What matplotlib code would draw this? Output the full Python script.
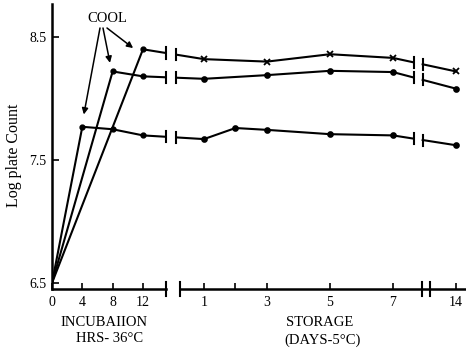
import matplotlib
matplotlib.use("Agg")
import matplotlib.pyplot as plt
import numpy as np

# ---- data ----
inc_ticks = [0, 4, 8, 12]
storage_ticks = [1, 2, 3, 5, 7, 14]
storage_tick_labels = ["1", "", "3", "5", "7", "14"]

low_hours = [0, 4, 8, 12]
low_inc = [6.5, 7.77, 7.75, 7.70]
low_days = [1, 2, 3, 5, 7]
low_store = [7.67, 7.76, 7.745, 7.71, 7.70]
low_day14 = 7.62

mid_hours = [0, 8, 12]
mid_inc = [6.5, 8.22, 8.18]
mid_days = [1, 3, 5, 7]
mid_store = [8.16, 8.19, 8.225, 8.215]
mid_day14 = 8.08

top_hours = [0, 12]
top_inc = [6.5, 8.40]
top_days = [1, 3, 5, 7]
top_store = [8.32, 8.30, 8.36, 8.33]
top_day14 = 8.22

# COOL arrow tips (hours, log count)
arrow_tips_x = [4.2, 7.65, 10.7]
arrow_tips_y = [7.87, 8.29, 8.41]
arrow_start_px = [100, 103, 107]

# ---- axis mapping (hours and storage days on one axis) ----
def day_pos(d):
    d = np.asarray(d, dtype=float)
    return np.where(d > 7.5, 53.3, 20.05 + (d - 1) * 4.155)

BRK1 = (15.0, 16.4)   # series break between incubation and storage
BRK2 = (47.7, 48.9)   # series break between day 7 and 14
AX_BRK1 = (15.0, 16.85)
AX_BRK2 = (48.8, 49.9)

plt.rcParams['font.family'] = ['Liberation Serif', 'DejaVu Serif']
fig = plt.figure(figsize=(4.66, 3.51), dpi=100)
W, H = 466, 351
ax = fig.add_axes([52 / W, (H - 289) / H, (466 - 52) / W, (289 - 4) / H])
ax.set_xlim(0, (466 - 52) / 7.58)
ax.set_ylim(6.5 - 6 / 123, 6.5 + 285 / 123 - 6 / 123)

lw = 1.5
k = 'black'

def interp(x0, y0, x1, y1, x):
    return y0 + (y1 - y0) * (x - x0) / (x1 - x0)

def draw_series(hours, inc, days, store, d14, store_marker):
    ax.plot(hours, inc, color=k, lw=lw)
    ax.plot(hours[1:], inc[1:], 'o', color=k, ms=3.5)
    xs = list(day_pos(days))
    x12, y12 = hours[-1], inc[-1]
    xd1, yd1 = xs[0], store[0]
    ya = interp(x12, y12, xd1, yd1, BRK1[0])
    yb = interp(x12, y12, xd1, yd1, BRK1[1])
    ax.plot([x12, BRK1[0]], [y12, ya], color=k, lw=lw)
    ax.plot([BRK1[1]] + xs, [yb] + store, color=k, lw=lw)
    for xb, yy in ((BRK1[0], ya), (BRK1[1], yb)):
        ax.plot([xb, xb], [yy - 0.045, yy + 0.045], color=k, lw=lw)
    ms = 3.5 if store_marker == 'o' else 4
    ax.plot(xs, store, store_marker, color=k, ms=ms, mew=1.3)
    x7, y7 = xs[-1], store[-1]
    x14 = float(day_pos(14))
    ya = interp(x7, y7, x14, d14, BRK2[0])
    yb = interp(x7, y7, x14, d14, BRK2[1])
    ax.plot([x7, BRK2[0]], [y7, ya], color=k, lw=lw)
    ax.plot([BRK2[1], x14], [yb, d14], color=k, lw=lw)
    for xb, yy in ((BRK2[0], ya), (BRK2[1], yb)):
        ax.plot([xb, xb], [yy - 0.045, yy + 0.045], color=k, lw=lw)
    ax.plot([x14], [d14], store_marker, color=k, ms=ms, mew=1.3)

draw_series(low_hours, low_inc, low_days, low_store, low_day14, 'o')
draw_series(mid_hours, mid_inc, mid_days, mid_store, mid_day14, 'o')
draw_series(top_hours, top_inc, top_days, top_store, top_day14, 'x')

# spines
for s in ('top', 'right', 'bottom'):
    ax.spines[s].set_visible(False)
ax.spines['left'].set_linewidth(1.8)
xt = ax.get_xaxis_transform()
ax.plot([0, AX_BRK1[0]], [0, 0], color=k, lw=1.8, transform=xt, clip_on=False)
ax.plot([AX_BRK1[1], ax.get_xlim()[1]], [0, 0], color=k, lw=1.8, transform=xt, clip_on=False)
for xb in (AX_BRK1[0], AX_BRK1[1], AX_BRK2[0], AX_BRK2[1]):
    ax.plot([xb, xb], [-0.026, 0.026], color=k, lw=1.5, transform=xt, clip_on=False)

# ticks
xt_pos = list(inc_ticks) + list(day_pos(storage_ticks))
xt_lab = [str(t) for t in inc_ticks] + storage_tick_labels
ax.set_xticks(xt_pos)
ax.set_xticklabels(xt_lab, fontsize=10)
ax.tick_params(axis='x', direction='in', length=4, width=1.2, pad=5)
ax.set_yticks([6.5, 7.5, 8.5])
ax.set_yticklabels(["6.5", "7.5", "8.5"], fontsize=10)
ax.tick_params(axis='y', direction='in', length=5, width=1.2, pad=4)

# labels
fig.text(14 / W, 1 - 155 / H, "Log plate Count", rotation=90, ha='center', va='center', fontsize=11.5)
fig.text(104 / W, 1 - 322 / H, "INCUBAIION", ha='center', va='center', fontsize=10.5)
fig.text(110 / W, 1 - 338 / H, "HRS- 36\u00b0C", ha='center', va='center', fontsize=10.5)
fig.text(320 / W, 1 - 323 / H, "STORAGE", ha='center', va='center', fontsize=10.5)
fig.text(323 / W, 1 - 340 / H, "(DAYS-5\u00b0C)", ha='center', va='center', fontsize=10.5)

# COOL annotation
fig.text(107 / W, 1 - 19 / H, "COOL", ha='center', va='center', fontsize=10.5)
for sx, tx, ty in zip(arrow_start_px, arrow_tips_x, arrow_tips_y):
    ax.annotate("", xy=(tx, ty),
                xytext=(sx / W, 1 - 28 / H), textcoords='figure fraction',
                arrowprops=dict(arrowstyle='-|>', color=k, lw=1.1, mutation_scale=9,
                                shrinkA=0, shrinkB=0))

fig.savefig("out.png", dpi=100)
